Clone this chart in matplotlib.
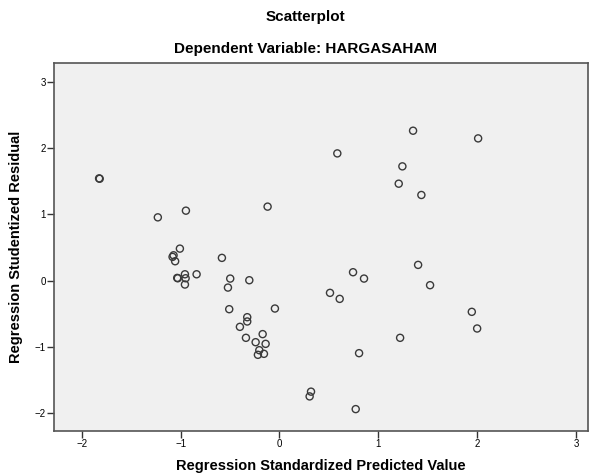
import matplotlib
matplotlib.use("Agg")
import matplotlib.pyplot as plt

# standardized predicted value (x) and studentized residual (y)
pred = [-1.824, -1.818, -1.23, -0.946, -0.12, -1.007, -1.071, -1.081, -1.055,
        -0.582, -1.034, -1.028, -0.956, -0.949, -0.956, -0.838, -0.498, -0.521,
        -0.305, -0.508, -0.046, -0.326, -0.326, -0.40, -0.17, -0.339, -0.241,
        -0.14, -0.204, -0.218, -0.157, 0.319, 0.305, 1.351, 2.009, 0.585,
        1.243, 1.206, 1.435, 1.402, 0.744, 0.855, 1.523, 0.511, 0.609, 1.945,
        1.999, 1.22, 0.805, 0.771]
resid = [1.545, 1.540, 0.956, 1.057, 1.118, 0.483, 0.382, 0.358, 0.292,
         0.343, 0.040, 0.035, 0.095, 0.035, -0.06, 0.095, 0.03, -0.106,
         0.005, -0.433, -0.423, -0.554, -0.619, -0.70, -0.81, -0.866, -0.932,
         -0.957, -1.053, -1.123, -1.108, -1.68, -1.752, 2.266, 2.15, 1.923,
         1.727, 1.465, 1.294, 0.237, 0.126, 0.03, -0.07, -0.186, -0.277, -0.473,
         -0.725, -0.866, -1.098, -1.944]

xticks = [-2, -1, 0, 1, 2, 3]
yticks = [-2, -1, 0, 1, 2, 3]

plt.rcParams['font.family'] = ['Liberation Sans', 'DejaVu Sans']

fig = plt.figure(figsize=(5.93, 4.73), dpi=100)
ax = fig.add_axes([54 / 593, 42 / 473, 534 / 593, 368 / 473])
ax.set_facecolor('#f0f0f0')

ax.scatter(pred, resid, s=26, facecolors='none', edgecolors='#3a3a3a',
           linewidths=1.0, zorder=3)

ax.set_xlim(-2.28, 3.12)
ax.set_ylim(-2.275, 3.29)
ax.set_xticks(xticks)
ax.set_yticks(yticks)
ax.tick_params(direction='out', length=5, width=1, labelsize=7,
               color='#333333', pad=1)
for s in ax.spines.values():
    s.set_color('#555555')
    s.set_linewidth(1.2)

ax.set_xlabel('Regression Standardized Predicted Value', fontsize=10.5,
              fontweight='bold', labelpad=7)
ax.set_ylabel('Regression Studentized Residual', fontsize=10.5,
              fontweight='bold', labelpad=8)

fig.text(305 / 593, 1 - 17 / 473, 'Scatterplot', ha='center', va='center',
         fontsize=11, fontweight='bold')
fig.text(305 / 593, 1 - 49 / 473, 'Dependent Variable: HARGASAHAM',
         ha='center', va='center', fontsize=11, fontweight='bold')

fig.savefig('out.png', dpi=100)
